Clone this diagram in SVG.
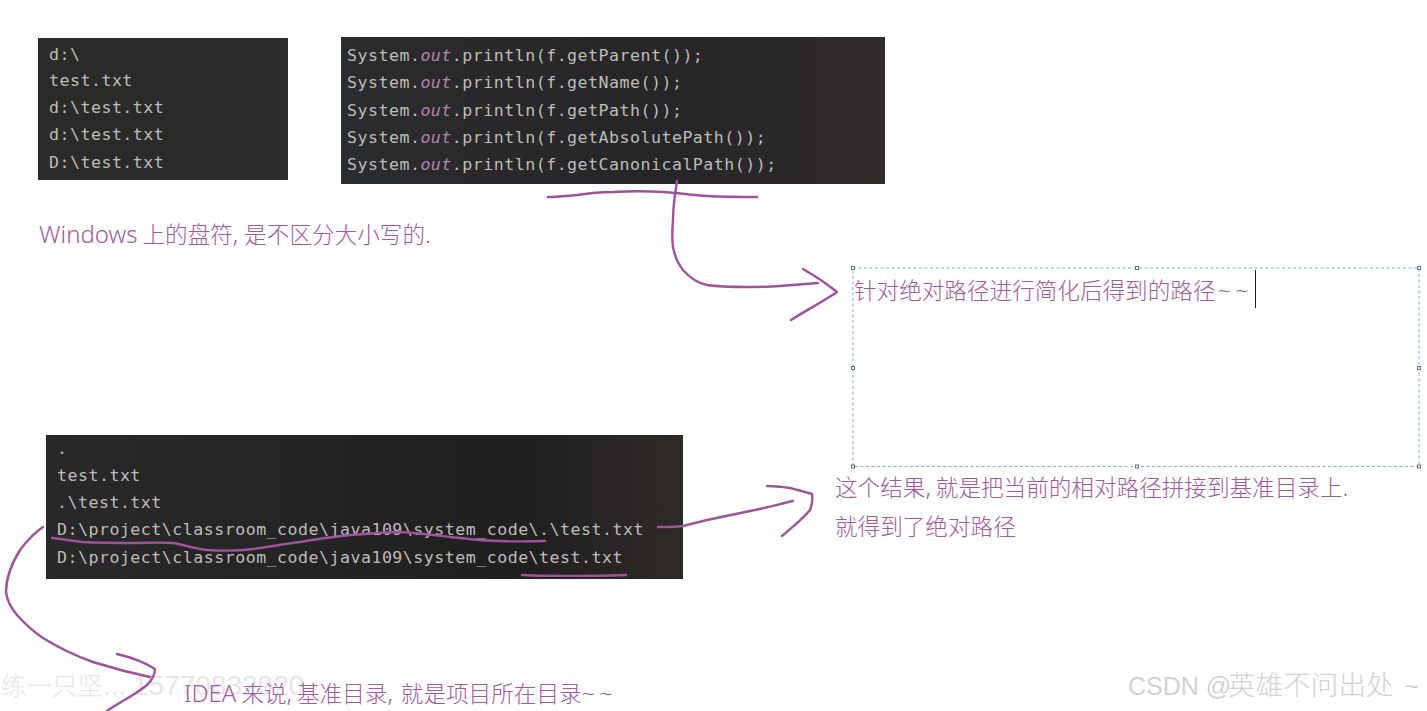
<svg xmlns="http://www.w3.org/2000/svg" width="1427" height="711" viewBox="0 0 1427 711">
<style>
.code{font-family:"DejaVu Sans Mono","Liberation Mono",monospace;font-size:16.6px;letter-spacing:.49px;fill:#bdbdb9}
.out{font-style:italic;fill:#b884ac}
.note{font-family:"Noto Sans CJK SC","Noto Sans",sans-serif;font-size:22.6px;fill:#a4589f;font-weight:300}
.lat{font-family:"Noto Sans",sans-serif;font-size:24px}
.til{font-family:"Noto Sans",sans-serif;font-size:24px;letter-spacing:4px}
.ink{fill:none;stroke:#a0529c;stroke-width:2.4;stroke-linecap:round;stroke-linejoin:round}
.h{fill:#fff;stroke:#5c7480;stroke-width:1}
.wm{font-family:"Noto Sans CJK SC",sans-serif;font-size:25.5px;font-weight:300;fill:#e6e6e6}
.wd{font-family:"Liberation Sans",sans-serif;font-size:28px;fill:#e6e6e6}
.csdn{font-family:"Liberation Sans",sans-serif;font-size:25px;fill:#d2d2d2}
.csdc{font-family:"Noto Sans CJK SC",sans-serif;font-size:27.6px;font-weight:300;fill:#d2d2d2}
</style>
<defs>
<linearGradient id="p2"><stop offset="0" stop-color="#2b2c2e"/><stop offset=".6" stop-color="#262527"/><stop offset="1" stop-color="#2f2a2a"/></linearGradient>
<linearGradient id="p3"><stop offset="0" stop-color="#29292a"/><stop offset=".75" stop-color="#201f1f"/><stop offset="1" stop-color="#2e2a28"/></linearGradient>
</defs>
<rect width="1427" height="711" fill="#fff"/>
<g id="output-top">
<rect x="38" y="38" width="250" height="142" fill="#2a2a29"/>
<text class="code" x="49" y="60">d:\</text>
<text class="code" x="49" y="86">test.txt</text>
<text class="code" x="49" y="113">d:\test.txt</text>
<text class="code" x="49" y="140">d:\test.txt</text>
<text class="code" x="49" y="168">D:\test.txt</text>
</g>
<g id="code-top">
<rect x="341" y="37" width="544" height="147" fill="url(#p2)"/>
<text class="code" x="347" y="61">System.<tspan class="out">out</tspan>.println(f.getParent());</text>
<text class="code" x="347" y="88">System.<tspan class="out">out</tspan>.println(f.getName());</text>
<text class="code" x="347" y="115.500">System.<tspan class="out">out</tspan>.println(f.getPath());</text>
<text class="code" x="347" y="142.500">System.<tspan class="out">out</tspan>.println(f.getAbsolutePath());</text>
<text class="code" x="347" y="170">System.<tspan class="out">out</tspan>.println(f.getCanonicalPath());</text>
</g>
<g id="note-windows"><text class="note" x="39" y="243"><tspan class="lat">Windows</tspan> 上的盘符<tspan class="lat">,</tspan> <tspan dx="1">是不区分大小写的</tspan><tspan class="lat">.</tspan></text></g>
<g id="textbox">
<rect x="853" y="268" width="566" height="198.500" fill="none" stroke="#7fb0cc" stroke-width="1" stroke-dasharray="3 2.500"/>
<rect class="h" x="851.500" y="266.500" width="3" height="3"/><rect class="h" x="1135.500" y="266.500" width="3" height="3"/><rect class="h" x="1417.500" y="266.500" width="3" height="3"/>
<rect class="h" x="851.500" y="366.500" width="3" height="3"/><rect class="h" x="1417.500" y="366.500" width="3" height="3"/>
<rect class="h" x="851.500" y="465" width="3" height="3"/><rect class="h" x="1135.500" y="465" width="3" height="3"/><rect class="h" x="1417.500" y="465" width="3" height="3"/>
<text class="note" x="854" y="299">针对绝对路径进行简化后得到的路径<tspan class="til" dx="2">~~</tspan></text>
<line x1="1255.500" y1="270" x2="1255.500" y2="308" stroke="#222" stroke-width="1"/>
</g>
<g id="output-bottom">
<rect x="46" y="435" width="637" height="144" fill="url(#p3)"/>
<text class="code" x="57" y="454">.</text>
<text class="code" x="57" y="481">test.txt</text>
<text class="code" x="57" y="508">.\test.txt</text>
<text class="code" x="57" y="535">D:\project\classroom_code\java109\system_code\.\test.txt</text>
<text class="code" x="57" y="563">D:\project\classroom_code\java109\system_code\test.txt</text>
</g>
<g id="note-result">
<text class="note" x="835" y="496">这个结果<tspan class="lat">,</tspan> 就是把当前的相对路径拼接到基准目录上<tspan class="lat">.</tspan></text>
<text class="note" x="835" y="535">就得到了绝对路径</text>
</g>
<g id="watermarks">
<text class="wm" x="1" y="695">练一只坚<tspan class="wd">...</tspan><tspan class="wd" x="133">15770832920</tspan></text>
<text class="csdn" x="1128" y="695">CSDN @<tspan class="csdc" x="1228">英雄不问出处</tspan><tspan x="1404">~</tspan></text>
</g>
<g id="note-idea"><text class="note" x="184" y="702"><tspan class="lat">IDEA</tspan> 来说<tspan class="lat">,</tspan> 基准目录<tspan class="lat">,</tspan> <tspan dx="3">就是项目所在目录</tspan><tspan class="til">~~</tspan></text></g>
<g id="connectors">
<path class="ink" d="M548 197C558 197 567 196 577 195C590 193 600 192 613 192C630 191 648 191 663 192C678 193 692 195 707 196C724 197 740 197 757 197"/>
<path class="ink" d="M677 181C675 195 673 205 673 220C672 232 672 240 673 247C675 257 678 264 683 270C690 278 697 283 707 285C720 287 733 287 747 287C758 287 769 287 780 286C793 285 806 284 818 283"/>
<path class="ink" d="M803 269C815 276 826 283 837 292C824 301 805 311 791 320"/>
<path class="ink" d="M658 527C667 527 675 527 683 526C691 524 699 522 707 520C721 517 736 514 750 511C765 508 780 504 793 501"/>
<path class="ink" d="M767 486C775 486 783 487 790 488C798 490 805 492 812 494C813 500 812 505 810 510C802 520 792 527 782 536"/>
<path class="ink" d="M52 538C62 539 73 541 83 542C100 543 116 543 133 543C146 543 160 542 173 543C185 545 196 549 207 550C222 551 238 551 253 549C269 547 284 544 300 542C317 539 333 537 350 535C367 534 383 532 400 532C417 533 433 535 450 537C467 539 483 541 500 541C515 542 530 541 545 541"/>
<path class="ink" d="M522 575C545 576 590 576 626 575"/>
<path class="ink" d="M43 527C34 533 26 542 20 550C12 563 6 578 6 592C7 601 11 608 17 615C25 624 34 632 43 638C59 648 76 656 93 662C112 668 131 673 150 677"/>
<path class="ink" d="M117 654C130 657 144 662 155 669C155 675 152 680 147 685C135 695 120 702 107 711"/>
</g>
</svg>
